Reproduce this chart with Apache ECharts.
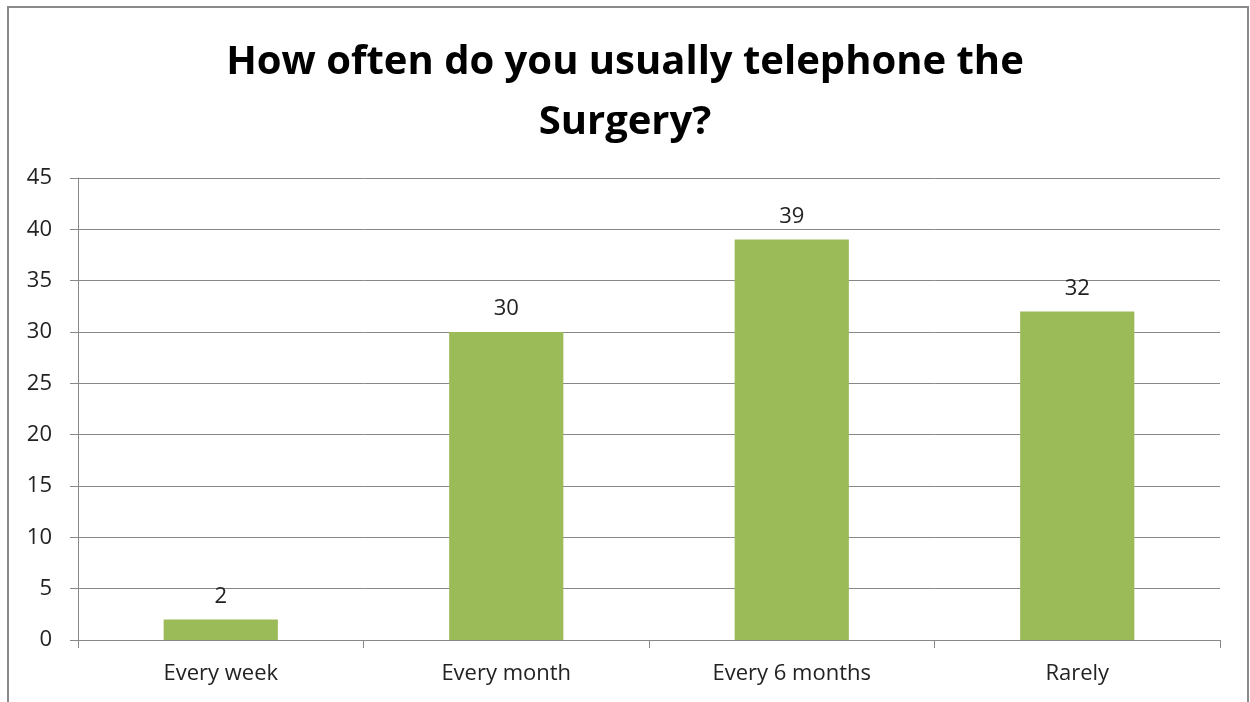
<!DOCTYPE html>
<html>
<head>
<meta charset="utf-8">
<script src="https://cdn.jsdelivr.net/npm/echarts@6/dist/echarts.min.js"></script>
<style>
  html, body { margin: 0; padding: 0; background: #fff; }
  #chart { width: 1250px; height: 702px; }
</style>
</head>
<body>
<div id="chart"></div>
<script>
// Survey responses: how often patients telephone the surgery
const categories = ['Every week', 'Every month', 'Every 6 months', 'Rarely'];
const responses = [2, 30, 39, 32];
const yTicks = { min: 0, max: 45, interval: 5 };

const font = '"Open Sans", "Liberation Sans", sans-serif';
const chart = echarts.init(document.getElementById('chart'), null, { renderer: 'canvas' });

chart.setOption({
  backgroundColor: '#ffffff',
  animation: false,
  graphic: [{
    type: 'rect',
    shape: { x: 8, y: 7, width: 1240, height: 720 },
    style: { fill: 'none', stroke: '#8a8a8a', lineWidth: 2 },
    silent: true
  }],
  title: {
    text: 'How often do you usually telephone the\nSurgery?',
    left: 'center',
    top: 28,
    textStyle: {
      fontFamily: font,
      fontWeight: 'bold',
      fontSize: 40,
      lineHeight: 60,
      color: '#000'
    }
  },
  grid: { left: 78, right: 30, top: 178, bottom: 62 },
  xAxis: {
    type: 'category',
    data: categories,
    axisLine: { lineStyle: { color: '#888', width: 1 } },
    axisTick: { show: true, length: 8, alignWithLabel: false, lineStyle: { color: '#888' } },
    axisLabel: { fontFamily: font, fontSize: 22, color: '#222', margin: 23 }
  },
  yAxis: {
    type: 'value',
    min: yTicks.min,
    max: yTicks.max,
    interval: yTicks.interval,
    axisLine: { show: true, lineStyle: { color: '#888', width: 1 } },
    axisTick: { show: true, length: 8, lineStyle: { color: '#888' } },
    splitLine: { show: true, lineStyle: { color: '#888', width: 1 } },
    axisLabel: { fontFamily: font, fontSize: 22, color: '#222', margin: 26 }
  },
  series: [{
    type: 'bar',
    data: responses,
    barWidth: '40%',
    itemStyle: { color: '#9bbb59' },
    label: {
      show: true,
      position: 'top',
      distance: 12,
      fontFamily: font,
      fontSize: 22,
      color: '#222'
    }
  }]
});
</script>
</body>
</html>
